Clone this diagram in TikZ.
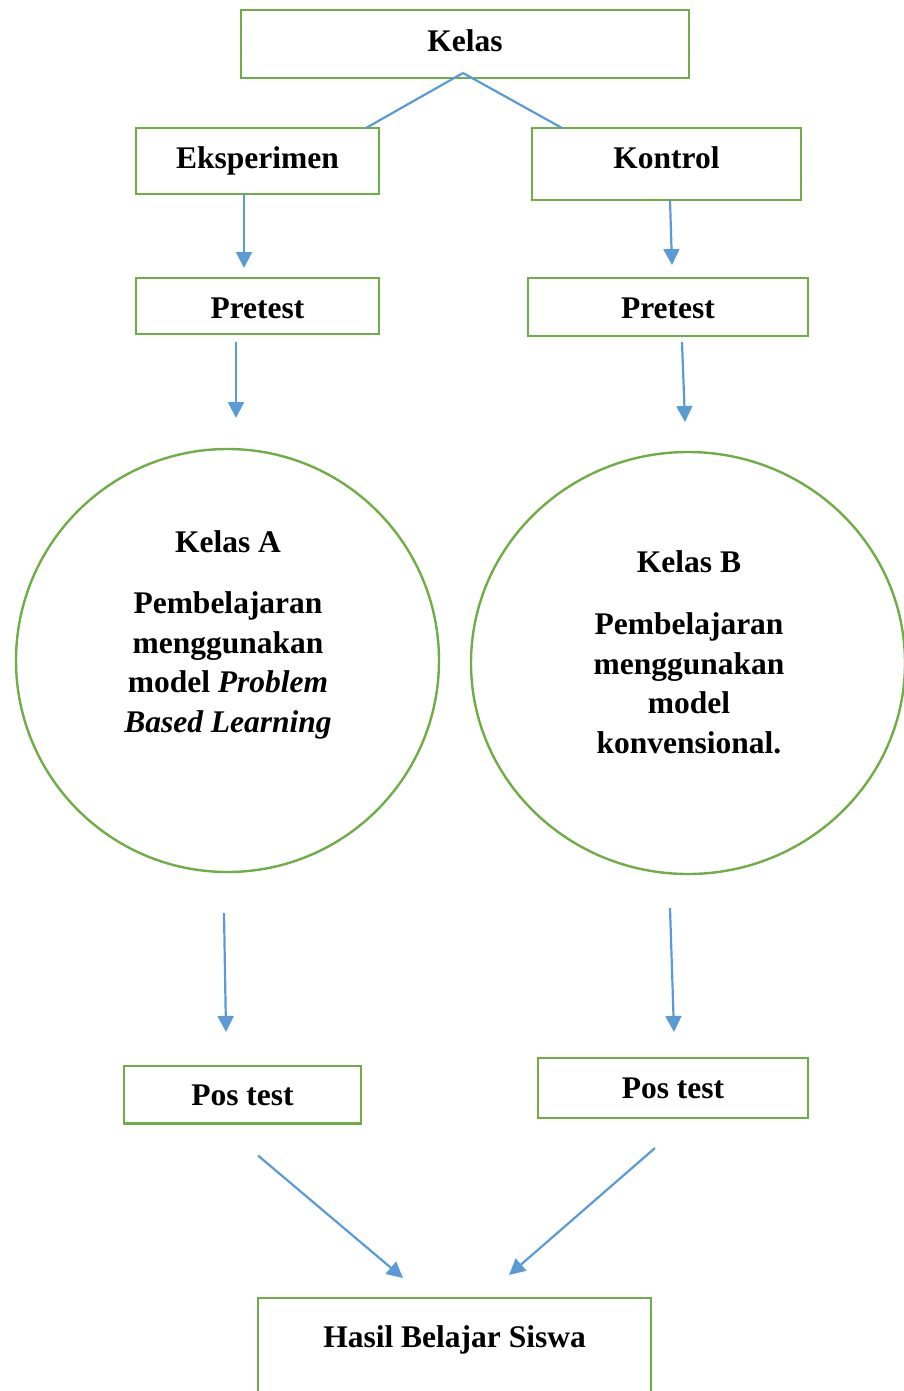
\documentclass[tikz,border=0pt]{standalone}
\usepackage{fontspec}
\setmainfont{Liberation Serif}
\usetikzlibrary{arrows.meta,calc,shapes.geometric}
\definecolor{boxgreen}{HTML}{70AD47}
\definecolor{arrblue}{HTML}{5B9BD5}
\begin{document}
\begin{tikzpicture}[x=1pt,y=-1pt,
  every node/.style={font=\fontsize{31.5pt}{39.5pt}\selectfont\bfseries},
  box/.style={draw=boxgreen, line width=2.8pt, rectangle, inner sep=0pt, outer sep=0pt, minimum height=0pt, anchor=base},
  ring/.style={draw=boxgreen, line width=2.4pt, inner sep=0pt, outer sep=0pt},
  conn/.style={draw=arrblue, line width=2.2pt},
  arr/.style={conn, -{Triangle[length=16pt,width=16pt]}},
  txt/.style={align=center, inner sep=0pt, anchor=base}]
\useasboundingbox (0,0) rectangle (904,1391);
\clip (0,0) rectangle (904,1391);

% boxes
\node[box, minimum width=448pt, text height=42pt, text depth=26pt] (kelas) at (465,52) {Kelas};
\node[box, minimum width=243pt, text height=41pt, text depth=25pt] (eks) at (257.5,169) {Eksperimen};
\node[box, minimum width=269pt, text height=41pt, text depth=31pt] (kon) at (666.5,169) {Kontrol};
\node[box, minimum width=243pt, text height=40pt, text depth=16pt] (preA) at (257.5,318) {Pretest};
\node[box, minimum width=280pt, text height=40pt, text depth=18pt] (preB) at (668,318) {Pretest};
\node[box, minimum width=237pt, text height=39pt, text depth=18.5pt] (posA) at (242.5,1105) {Pos test};
\node[box, minimum width=270pt, text height=40pt, text depth=20pt] (posB) at (673,1098) {Pos test};
\node[box, minimum width=393pt, text height=49pt, text depth=53pt] (hasil) at (454.5,1347) {Hasil Belajar Siswa};

% circles
\node[ring, circle, minimum size=423pt] (circA) at (227.5,660.5) {};
\node[ring, ellipse, minimum width=434pt, minimum height=422pt] (circB) at (688,663) {};

% circle texts (base = baseline of the last line)
\node[txt] (ka) at (228,552) {Kelas A};
\node[txt] (pa) at (228,732) {Pembelajaran\\ menggunakan\\ model \textit{Problem}\\ \textit{Based Learning}};
\node[txt] (kb) at (689,572) {Kelas B};
\node[txt] (pb) at (689,753) {Pembelajaran\\ menggunakan\\ model\\ konvensional.};

% connectors
\coordinate (apex) at ($(kelas.south)+(-2,-5)$);
\draw[conn] (apex) -- ($(eks.north west)+(230,0)$);
\draw[conn] (apex) -- ($(kon.north west)+(30,0)$);

\draw[arr] ($(eks.south west)+(108,0)$) -- ($(preA.north west)+(108,-10)$);
\draw[arr] ($(kon.south west)+(138,0)$) -- ($(preB.north west)+(144,-13)$);

\draw[arr] ($(preA.south west)+(100,8)$) -- ($(circA.north)+(8.5,-31)$);
\draw[arr] ($(preB.south west)+(154,6)$) -- ($(circB.north)+(-3,-30)$);

\draw[arr] ($(circA.south)+(-3.5,41)$) -- ($(posA.north)+(-16.5,-34)$);
\draw[arr] ($(circB.south)+(-18,34)$) -- ($(posB.north)+(1,-26)$);

\draw[arr] ($(posA.south west)+(134,32)$) -- ($(hasil.north west)+(145,-20)$);
\draw[arr] ($(posB.south west)+(117,30)$) -- ($(hasil.north west)+(251,-23)$);
\end{tikzpicture}
\end{document}
